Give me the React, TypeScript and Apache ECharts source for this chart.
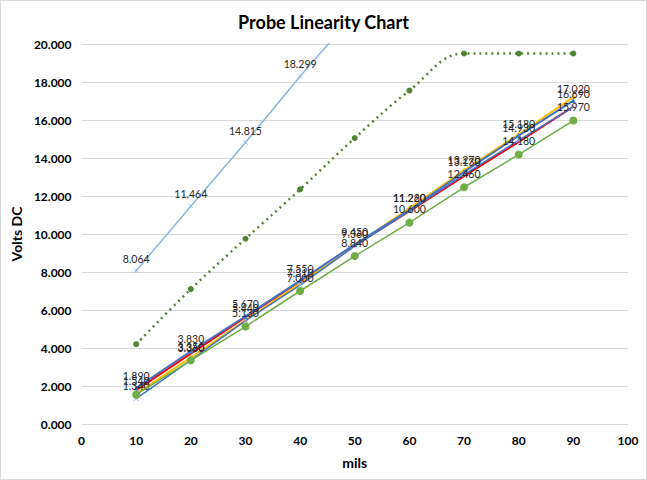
import React, { useEffect, useRef } from "react";
import * as echarts from "echarts";

const mils = [10, 20, 30, 40, 50, 60, 70, 80, 90];
const probeLightBlue = [8.064, 11.464, 14.815, 18.299, 21.6];
const probeDotted = [4.2, 7.1, 9.75, 12.35, 15.05, 17.55, 19.5, 19.5, 19.5];
const probeRed = [1.78, 3.7, 5.62, 7.5, 9.4, 11.2, 13.05, 14.85, 16.7];
const probeYellow = [1.6, 3.5, 5.45, 7.42, 9.4, 11.35, 13.35, 15.25, 17.2];
const probeBlueA = [1.89, 3.83, 5.67, 7.55, 9.45, 11.26, 13.27, 15.18, 17.02];
const probeBlueB = [1.34, 3.36, 5.44, 7.31, 9.36, 11.22, 13.13, 14.93, 16.69];
const probeGreen = [1.54, 3.35, 5.13, 7.0, 8.84, 10.6, 12.46, 14.18, 15.97];
const xTicks = [0, 10, 20, 30, 40, 50, 60, 70, 80, 90, 100];

const FONT = "Lato, 'Open Sans', sans-serif";
const XMARK = "path://M0,0L10,10M10,0L0,10";

const pairs = (vals: number[]) => vals.map((v, i) => [mils[i], v]);

const labelCfg = (show: boolean) => ({
  show,
  position: "top" as const,
  distance: 4,
  fontSize: 10.5,
  fontFamily: FONT,
  color: "#262626",
  formatter: (p: any) => (p.value[1] > 20 ? "" : Number(p.value[1]).toFixed(3)),
});

export default function App() {
  const ref = useRef<HTMLDivElement>(null);
  useEffect(() => {
    if (!ref.current) return;
    const chart = echarts.init(ref.current, undefined, { renderer: "svg" });
    chart.setOption({
      animation: false,
      backgroundColor: "#ffffff",
      title: {
        text: "Probe Linearity Chart",
        left: "center",
        top: 7,
        textStyle: { fontFamily: FONT, fontSize: 18, fontWeight: "bold", color: "#000" },
      },
      grid: { left: 77, right: 18, top: 43, bottom: 55, containLabel: false },
      xAxis: {
        type: "value",
        min: 0,
        max: 100,
        interval: 10,
        name: "mils",
        nameLocation: "middle",
        nameGap: 31,
        nameTextStyle: { fontFamily: FONT, fontSize: 14, fontWeight: "bold", color: "#000" },
        axisLine: { show: false },
        axisTick: { show: false },
        splitLine: { show: false },
        axisLabel: {
          fontFamily: FONT,
          fontSize: 12,
          fontWeight: "bold",
          color: "#000",
          margin: 10,
          formatter: (v: number) => (xTicks.includes(v) ? String(v) : ""),
        },
      },
      yAxis: {
        type: "value",
        min: 0,
        max: 20,
        interval: 2,
        name: "Volts DC",
        nameLocation: "middle",
        nameGap: 57,
        nameRotate: 90,
        nameTextStyle: { fontFamily: FONT, fontSize: 14, fontWeight: "bold", color: "#000" },
        axisLine: { show: false },
        axisTick: { show: false },
        splitLine: { lineStyle: { color: "#d9d9d9", width: 1 } },
        axisLabel: {
          fontFamily: FONT,
          fontSize: 12,
          fontWeight: "bold",
          color: "#000",
          margin: 10,
          formatter: (v: number) => v.toFixed(3),
        },
      },
      series: [
        {
          type: "line",
          name: "Probe A",
          data: pairs(probeLightBlue),
          clip: true,
          symbol: XMARK,
          symbolSize: 4,
          lineStyle: { color: "#8EB4E3", width: 1.5 },
          itemStyle: { color: "#8EB4E3", borderColor: "#8EB4E3" },
          label: labelCfg(true),
          z: 2,
        },
        {
          type: "line",
          name: "Probe B",
          data: pairs(probeDotted),
          smooth: 0.4,
          smoothConstraint: false,
          symbol: "circle",
          symbolSize: 6,
          lineStyle: { color: "#548235", width: 2.5, type: [2, 4] },
          itemStyle: { color: "#548235" },
          label: { show: false },
          z: 2,
        },
        {
          type: "line",
          name: "Probe C",
          data: pairs(probeRed),
          symbol: "none",
          lineStyle: { color: "#FF0000", width: 2 },
          itemStyle: { color: "#FF0000" },
          z: 3,
        },
        {
          type: "line",
          name: "Probe D",
          data: pairs(probeYellow),
          symbol: "circle",
          symbolSize: 4,
          lineStyle: { color: "#FFC000", width: 2 },
          itemStyle: { color: "#FFC000" },
          z: 3,
        },
        {
          type: "line",
          name: "Probe E",
          data: pairs(probeBlueB),
          symbol: XMARK,
          symbolSize: 5,
          lineStyle: { color: "#4472C4", width: 1.5 },
          itemStyle: { color: "#8EB4E3", borderColor: "#8EB4E3", borderWidth: 1 },
          label: labelCfg(true),
          z: 4,
        },
        {
          type: "line",
          name: "Probe F",
          data: pairs(probeBlueA),
          symbol: "triangle",
          symbolSize: 5,
          lineStyle: { color: "#4472C4", width: 2 },
          itemStyle: { color: "#4472C4" },
          label: labelCfg(true),
          z: 4,
        },
        {
          type: "line",
          name: "Probe G",
          data: pairs(probeGreen),
          symbol: "circle",
          symbolSize: 8,
          lineStyle: { color: "#70AD47", width: 1.5 },
          itemStyle: { color: "#70AD47" },
          label: labelCfg(true),
          z: 5,
        },
      ],
    });
    return () => chart.dispose();
  }, []);
  return (
    <div
      ref={ref}
      style={{
        position: "fixed",
        left: 0,
        top: 0,
        width: 647,
        height: 480,
        boxSizing: "border-box",
        border: "1px solid #d9d9d9",
        background: "#fff",
      }}
    />
  );
}
